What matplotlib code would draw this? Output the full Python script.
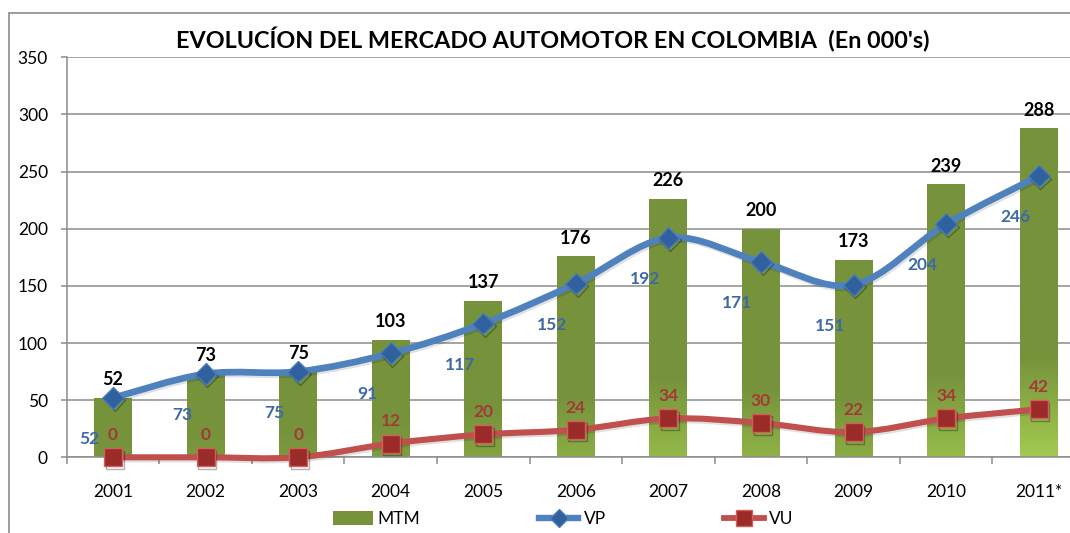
import numpy as np
import matplotlib
matplotlib.use("Agg")
import matplotlib.pyplot as plt
from matplotlib.path import Path
from matplotlib.patches import PathPatch, Rectangle, Patch
from matplotlib.lines import Line2D
from matplotlib.colors import LinearSegmentedColormap, to_rgb
import matplotlib.patheffects as pe

plt.rcParams['font.family'] = ['Lato', 'DejaVu Sans']

years = ["2001", "2002", "2003", "2004", "2005", "2006", "2007", "2008", "2009", "2010", "2011*"]
mtm = [52, 73, 75, 103, 137, 176, 226, 200, 173, 239, 288]
vp = [52, 73, 75, 91, 117, 152, 192, 171, 151, 204, 246]
vu = [0, 0, 0, 12, 20, 24, 34, 30, 22, 34, 42]
yticks = [0, 50, 100, 150, 200, 250, 300, 350]
title = "EVOLUCÍON DEL MERCADO AUTOMOTOR EN COLOMBIA  (En 000's)"

DARK = "#76933C"
LIGHT = "#A2CA4E"
BLUE = "#4F81BD"
BLUE_M = "#30619E"
RED = "#C0504D"
RED_M = "#9B2B29"
BLUE_T = "#3E68A6"
RED_T = "#A23A37"
GRID = "#8C8C8C"

fig = plt.figure(figsize=(10.7, 5.33), dpi=100)
W, H = 1070, 533
ax = fig.add_axes([66.7 / W, 75.7 / H, (1085 - 66.7) / W, 400 / H])

x = np.arange(len(years))
ax.set_xlim(-0.5, len(years) - 0.5)
ax.set_ylim(0, 350)

# grid
ax.set_yticks(yticks)
ax.yaxis.grid(True, color=GRID, linewidth=1.1)
ax.set_axisbelow(True)
for s in ["top", "right"]:
    ax.spines[s].set_visible(False)
for s in ["left", "bottom"]:
    ax.spines[s].set_color(GRID)
    ax.spines[s].set_linewidth(1.1)

# bars with gradient
bars = ax.bar(x, mtm, width=0.41, color=DARK, zorder=2, linewidth=0)
hmax = max(mtm)
d = np.array(to_rgb(DARK))
l = np.array(to_rgb(LIGHT))
for b, h in zip(bars, mtm):
    strength = (h / hmax) ** 1.6
    lo = d + (l - d) * strength
    cmap = LinearSegmentedColormap.from_list("g", [(0, lo), (0.3, d), (1, d)])
    grad = np.linspace(0, 1, 200).reshape(-1, 1)
    im = ax.imshow(grad, cmap=cmap, origin="lower", aspect="auto",
                   extent=[b.get_x(), b.get_x() + b.get_width(), 0, h],
                   zorder=2.1, interpolation="bilinear")
    im.set_clip_path(b)
ax.set_xlim(-0.5, len(years) - 0.5)
ax.set_ylim(0, 350)


def smooth_path(xs, ys):
    pts = np.column_stack([xs, ys]).astype(float)
    n = len(pts)
    verts = [pts[0]]
    codes = [Path.MOVETO]
    for i in range(n - 1):
        p0 = pts[i - 1] if i > 0 else pts[i]
        p1 = pts[i]
        p2 = pts[i + 1]
        p3 = pts[i + 2] if i + 2 < n else pts[i + 1]
        c1 = p1 + (p2 - p0) / 6.0
        c2 = p2 - (p3 - p1) / 6.0
        verts += [c1, c2, p2]
        codes += [Path.CURVE4] * 3
    return Path(verts, codes)


lshadow = [pe.SimpleLineShadow(offset=(1.0, -1.5), shadow_color="black", alpha=0.12), pe.Normal()]
mshadow = [pe.SimpleLineShadow(offset=(1.2, -1.8), shadow_color="black", alpha=0.3), pe.Normal()]

ax.add_patch(PathPatch(smooth_path(x, vp), fill=False, edgecolor=BLUE, linewidth=4.8,
                       zorder=3, capstyle="round", joinstyle="round",
                       path_effects=lshadow, clip_on=False))
ax.plot(x, vp, linestyle="none", marker="D", markersize=11, markerfacecolor=BLUE_M,
        markeredgecolor="#4A7CBA", markeredgewidth=1.0, zorder=4,
        path_effects=mshadow, clip_on=False)

ax.add_patch(PathPatch(smooth_path(x, vu), fill=False, edgecolor=RED, linewidth=4.4,
                       zorder=3, capstyle="round", joinstyle="round",
                       path_effects=lshadow, clip_on=False))
ax.plot(x, vu, linestyle="none", marker="s", markersize=13, markerfacecolor=RED_M,
        markeredgecolor="#D0605C", markeredgewidth=1.0, zorder=4,
        path_effects=mshadow, clip_on=False)

# data labels
for xi, v in zip(x, mtm):
    ax.annotate(str(v), (xi, v), xytext=(0, 13), textcoords="offset points",
                ha="center", va="center", fontsize=13, fontweight="bold",
                color="black", zorder=6)
for xi, v in zip(x, vp):
    ax.annotate(str(v), (xi, v), xytext=(-17, -29.5), textcoords="offset points",
                ha="center", va="center", fontsize=12.5, fontweight="bold",
                color=BLUE_T, zorder=6)
for xi, v in zip(x, vu):
    ax.annotate(str(v), (xi, v), xytext=(0, 16), textcoords="offset points",
                ha="center", va="center", fontsize=12.5, fontweight="bold",
                color=RED_T, zorder=6)

# ticks
ax.set_xticks(np.arange(-0.5, len(years), 1.0))
ax.set_xticklabels([])
ax.set_xticks(x, minor=True)
ax.set_xticklabels(years, minor=True)
ax.tick_params(axis="x", which="major", length=5, color=GRID, width=1.1)
ax.tick_params(axis="x", which="minor", length=0, pad=19, labelsize=12.5)
ax.tick_params(axis="y", length=4.5, color=GRID, width=1.1, pad=9, labelsize=12.5)

# title
fig.text(553 / W, 1 - 40 / H, title, ha="center", va="center",
         fontsize=16.8, fontweight="bold", color="black")

# outer frame
fig.patches.append(Rectangle((9 / W, -0.2), 1.2, 0.2 + (1 - 12.7 / H),
                             transform=fig.transFigure, fill=False,
                             edgecolor=GRID, linewidth=1.2))

# legend
handles = [Patch(facecolor=DARK, edgecolor="none"),
           Line2D([], [], color=BLUE, linewidth=4.6, marker="D", markersize=9,
                  markerfacecolor=BLUE_M, markeredgecolor="#4A7CBA"),
           Line2D([], [], color=RED, linewidth=4.2, marker="s", markersize=11,
                  markerfacecolor=RED_M, markeredgecolor="#D0605C")]
fig.legend(handles, ["MTM", "VP", "VU"], loc="center", bbox_to_anchor=(563 / W, 14 / H),
           ncol=3, frameon=False, fontsize=12.5, handlelength=2.3, handleheight=0.9,
           handletextpad=0.3, columnspacing=6.8)

fig.savefig("out.png", dpi=100)
